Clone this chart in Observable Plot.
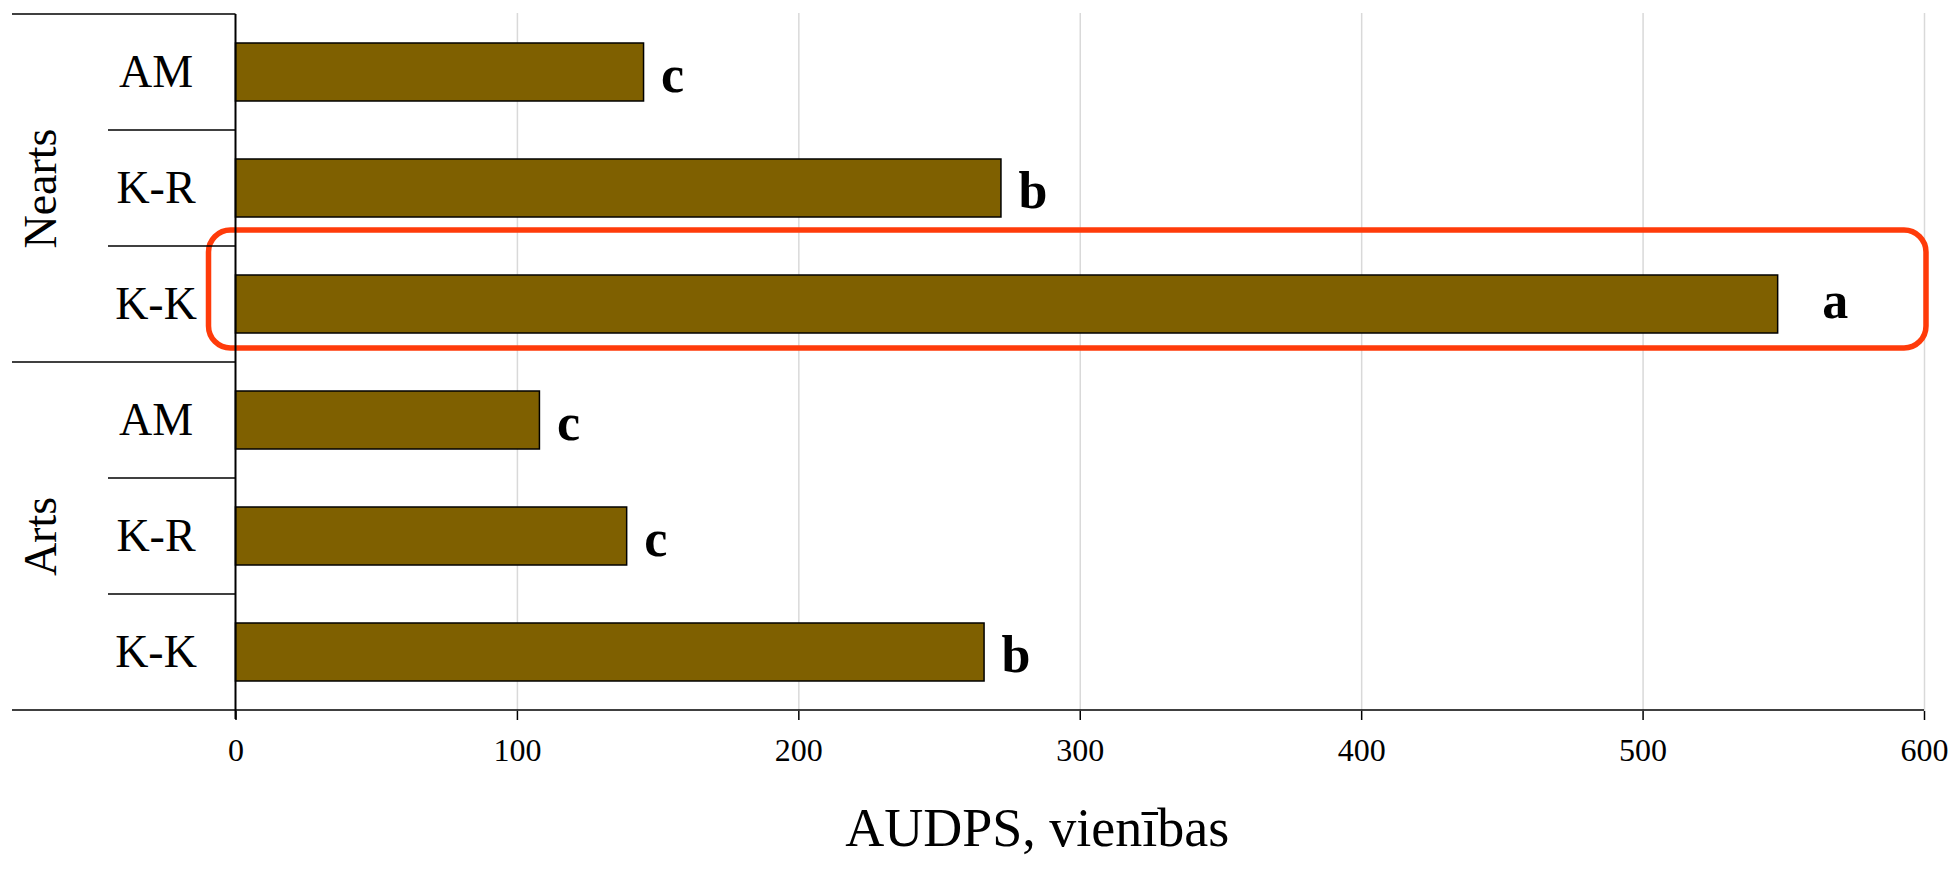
<!DOCTYPE html>
<html>
<head>
<meta charset="utf-8">
<script src="https://cdn.jsdelivr.net/npm/d3@7"></script>
<script src="https://cdn.jsdelivr.net/npm/@observablehq/plot@0.6"></script>
<style>
  html, body { margin: 0; padding: 0; background: #fff; }
  #chart { width: 1953px; height: 869px; }
  #chart svg text { font-family: "Liberation Serif", "Times New Roman", serif; }
  #chart svg g[aria-label="x-axis tick label"] { font-size: 32px; font-variant: normal; }
</style>
</head>
<body>
<div id="chart"></div>
<script>
// ---- data ----
const groups = ["Nearts", "Nearts", "Nearts", "Arts", "Arts", "Arts"];
const treatments = ["AM", "K-R", "K-K", "AM", "K-R", "K-K"];
const audps = [145, 272, 548, 108, 139, 266];
const letters = ["c", "b", "a", "c", "c", "b"];
const highlighted = [false, false, true, false, false, false];
const groupLabels = ["Nearts", "Arts"];
const xTicks = [0, 100, 200, 300, 400, 500, 600];
const axisTitle = "AUDPS, vienības";

const data = groups.map((g, i) => ({
  group: g, treatment: treatments[i], key: g + " " + treatments[i],
  value: audps[i], letter: letters[i], hl: highlighted[i]
}));
const groupMid = groupLabels.map(g => {
  const rows = data.filter(d => d.group === g);
  return {label: g, key: rows[Math.floor(rows.length / 2)].key};
});

const FONT = '"Liberation Serif", "Times New Roman", serif';
const W = 1953, H = 869;
const ML = 235.5, MR = 29, MT = 13, MB = 158;

const plot = Plot.plot({
  width: W, height: H,
  marginLeft: ML, marginRight: MR, marginTop: MT, marginBottom: MB,
  style: {fontFamily: FONT, fontSize: "46px", background: "white", color: "black", overflow: "visible"},
  x: {domain: [0, 600]},
  y: {type: "band", domain: data.map(d => d.key), paddingInner: 0.5, paddingOuter: 0.25, axis: null},
  marks: [
    Plot.ruleX(xTicks.slice(1), {stroke: "#d9d9d9", strokeWidth: 1.5}),
    Plot.barX(data, {y: "key", x: "value", fill: "#7F6000", stroke: "black", strokeWidth: 1.5}),
    Plot.barX(data.filter(d => d.hl), {
      y: "key", x1: 0, x2: 600, fill: "none", stroke: "#FF3B0A", strokeWidth: 5.5, rx: 22,
      insetLeft: -27, insetRight: -2, insetTop: -45, insetBottom: -15
    }),
    Plot.text(data.filter(d => !d.hl), {
      x: "value", y: "key", text: "letter", textAnchor: "start", dx: 17, dy: 3,
      fontWeight: "bold", fontSize: 52, fontFamily: FONT
    }),
    Plot.text(data.filter(d => d.hl), {
      x: "value", y: "key", text: "letter", textAnchor: "start", dx: 44, dy: -3,
      fontWeight: "bold", fontSize: 52, fontFamily: FONT
    }),
    Plot.text(data, {y: "key", text: "treatment", frameAnchor: "left", dx: -80, textAnchor: "middle", fontSize: 46, fontFamily: FONT}),
    Plot.text(groupMid, {y: "key", text: "label", frameAnchor: "left", dx: -195, rotate: -90, textAnchor: "middle", fontSize: 46, fontFamily: FONT}),
    Plot.axisX({ticks: xTicks, tickSize: 9, tickPadding: 18, fontSize: 32, fontFamily: FONT, strokeWidth: 1.5, label: null, tickFormat: d => String(d)}),
    Plot.text([axisTitle], {text: d => d, frameAnchor: "bottom", dx: -43, dy: 134, fontSize: 54, fontFamily: FONT})
  ]
});

document.getElementById("chart").appendChild(plot);

// hierarchical category axis decoration, positioned from Plot's own scales
const ys = plot.scale("y");
const xs = plot.scale("x");
const x0 = xs.apply(0), x600 = xs.apply(600);
const half = (ys.step - ys.bandwidth) / 2;
const svg = d3.select(plot);
const g = svg.append("g").attr("stroke", "black").attr("fill", "none");
const bounds = [];
data.forEach((d, i) => {
  const top = ys.apply(d.key) - half;
  const isGroup = i === 0 || data[i - 1].group !== d.group;
  bounds.push({y: top, group: isGroup});
});
bounds.push({y: ys.apply(data[data.length - 1].key) - half + ys.step, group: true});
bounds.forEach((b, i) => {
  const last = i === bounds.length - 1;
  g.append("line")
    .attr("x1", b.group ? 12 : 108).attr("x2", last ? x600 : x0)
    .attr("y1", b.y).attr("y2", b.y)
    .attr("stroke-width", 1.5);
});
// y-axis line
g.append("line").attr("x1", x0).attr("x2", x0)
  .attr("y1", bounds[0].y).attr("y2", bounds[bounds.length - 1].y + 9)
  .attr("stroke-width", 2);
</script>
</body>
</html>
